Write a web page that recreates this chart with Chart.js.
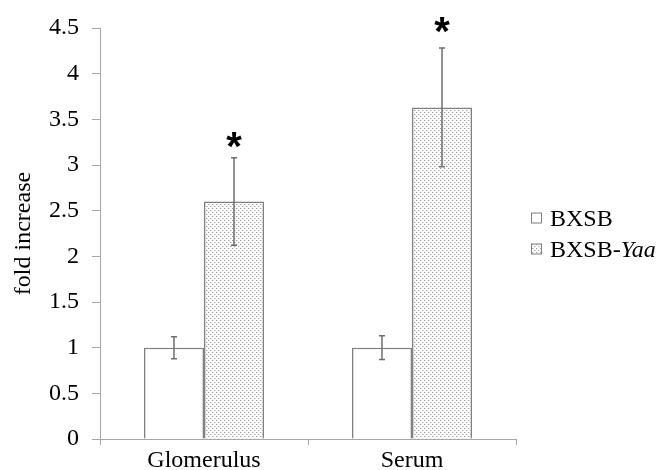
<!DOCTYPE html>
<html>
<head>
<meta charset="utf-8">
<script src="https://cdn.jsdelivr.net/npm/chart.js@4.4.1/dist/chart.umd.min.js"></script>
<style>
  html, body { margin: 0; background: #fff; }
  #wrap { width: 662px; height: 470px; }
</style>
</head>
<body>
<div id="wrap"><canvas id="c" width="662" height="470"></canvas></div>
<script>
// valeurs
const categories = ['Glomerulus', 'Serum'];
const seriesNames = ['BXSB', 'BXSB-Yaa'];
const bxsbValues = [1.0, 1.0];
const bxsbErrors = [0.12, 0.13];
const yaaValues = [2.6, 3.63];
const yaaErrors = [0.48, 0.65];
const starValues = [3.27, 4.53];   // hauteur des astérisques (série Yaa)
const yTickValues = [0, 0.5, 1, 1.5, 2, 2.5, 3, 3.5, 4, 4.5];

const SERIF = "'Liberation Serif', 'Times New Roman', serif";
const FONT_SIZE = 24;
const AXIS = '#a6a6a6';
const BAR_EDGE = '#7f7f7f';

const canvas = document.getElementById('c');
const ctx = canvas.getContext('2d');

// trame pointillée de la série Yaa
function dotPattern() {
  const t = document.createElement('canvas');
  t.width = 4; t.height = 4;
  const g = t.getContext('2d');
  g.fillStyle = '#ffffff'; g.fillRect(0, 0, 4, 4);
  g.fillStyle = '#dadada';
  g.fillRect(1, 0, 1, 1); g.fillRect(3, 2, 1, 1);
  g.fillStyle = '#a0a0a0';
  g.fillRect(0, 0, 1, 1); g.fillRect(2, 2, 1, 1);
  return ctx.createPattern(t, 'repeat');
}
const dots = dotPattern();

const errorsBySeries = [bxsbErrors, yaaErrors];

const extras = {
  id: 'extras',
  afterDatasetsDraw(chart) {
    const c = chart.ctx;
    const y = chart.scales.y;
    // barres d'erreur
    c.save();
    c.strokeStyle = '#6e6e6e';
    c.lineWidth = 1.5;
    chart.data.datasets.forEach((ds, i) => {
      const meta = chart.getDatasetMeta(i);
      meta.data.forEach((bar, j) => {
        const v = ds.data[j], e = errorsBySeries[i][j];
        const y1 = y.getPixelForValue(v - e), y2 = y.getPixelForValue(v + e);
        c.beginPath();
        c.moveTo(bar.x, y1); c.lineTo(bar.x, y2);
        c.moveTo(bar.x - 3, y1); c.lineTo(bar.x + 3, y1);
        c.moveTo(bar.x - 3, y2); c.lineTo(bar.x + 3, y2);
        c.stroke();
      });
    });
    // astérisques
    c.fillStyle = '#000';
    c.font = "bold 40px 'Liberation Sans', Arial, sans-serif";
    c.textAlign = 'center';
    c.textBaseline = 'alphabetic';
    const m = c.measureText('*');
    const mid = (m.actualBoundingBoxAscent - m.actualBoundingBoxDescent) / 2;
    const yaaMeta = chart.getDatasetMeta(1);
    starValues.forEach((v, j) => {
      c.fillText('*', yaaMeta.data[j].x, y.getPixelForValue(v) + mid);
    });
    c.restore();
  },
  afterDraw(chart) {
    // légende à droite, partie après le tiret en italique
    const c = chart.ctx;
    const area = chart.chartArea;
    const x0 = area.right + 15;
    const yc = (area.top + area.bottom) / 2;
    const rows = [yc - 16, yc + 15];
    c.save();
    c.textBaseline = 'alphabetic';
    c.textAlign = 'left';
    chart.data.datasets.forEach((ds, i) => {
      const ry = rows[i];
      c.fillStyle = ds.backgroundColor;
      c.fillRect(x0, ry - 5, 10, 10);
      c.strokeStyle = BAR_EDGE;
      c.lineWidth = 1;
      c.strokeRect(x0 + 0.5, ry - 4.5, 10, 10);
      c.fillStyle = '#000';
      const name = seriesNames[i];
      const cut = name.indexOf('-');
      let tx = x0 + 19;
      const head = cut < 0 ? name : name.slice(0, cut + 1);
      c.font = `${FONT_SIZE}px ${SERIF}`;
      c.fillText(head, tx, ry + 8);
      if (cut >= 0) {
        tx += c.measureText(head).width;
        c.font = `italic ${FONT_SIZE}px ${SERIF}`;
        c.fillText(name.slice(cut + 1), tx, ry + 8);
      }
    });
    c.restore();
  },
};

new Chart(ctx, {
  type: 'bar',
  data: {
    labels: categories,
    datasets: [
      { label: seriesNames[0], data: bxsbValues, backgroundColor: '#ffffff', borderColor: BAR_EDGE, borderWidth: 1.5,
        categoryPercentage: 0.577, barPercentage: 1.0 },
      { label: seriesNames[1], data: yaaValues, backgroundColor: dots, borderColor: BAR_EDGE, borderWidth: 1.5,
        categoryPercentage: 0.577, barPercentage: 1.0 },
    ],
  },
  options: {
    responsive: false,
    animation: false,
    devicePixelRatio: 1,
    layout: { padding: { top: 28, right: 146, left: 0, bottom: 0 } },
    plugins: { legend: { display: false }, tooltip: { enabled: false } },
    scales: {
      x: {
        grid: { offset: true, drawOnChartArea: false, tickLength: 6, color: AXIS, lineWidth: 1 },
        border: { color: AXIS, width: 1 },
        ticks: { color: '#000', font: { family: SERIF, size: FONT_SIZE }, padding: 1 },
        afterFit: s => { s.height = 31; },
      },
      y: {
        min: 0, max: 4.5,
        afterBuildTicks: s => { s.ticks = yTickValues.map(v => ({ value: v })); },
        grid: { drawOnChartArea: false, tickLength: 8, color: AXIS, lineWidth: 1 },
        border: { color: AXIS, width: 1 },
        ticks: { color: '#000', font: { family: SERIF, size: FONT_SIZE }, padding: 13, callback: v => String(v) },
        title: { display: true, text: 'fold increase', color: '#000', font: { family: SERIF, size: FONT_SIZE }, padding: { top: 9, bottom: 0 } },
        afterFit: s => { s.width = 100; },
      },
    },
  },
  plugins: [extras],
});
</script>
</body>
</html>
